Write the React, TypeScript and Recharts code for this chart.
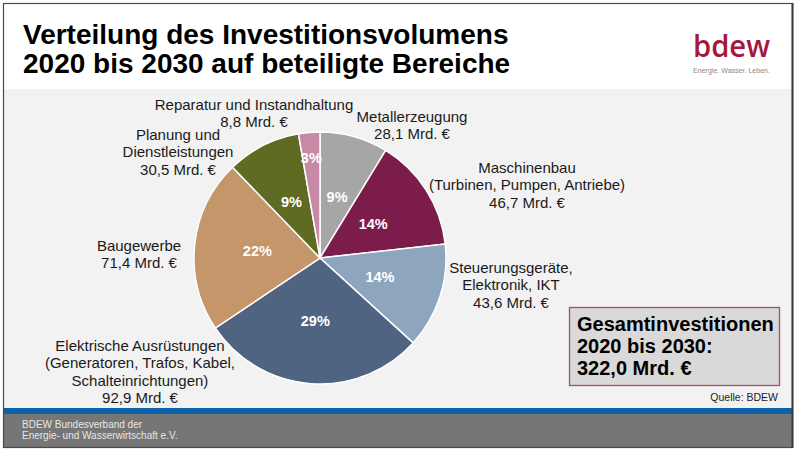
import React from "react";
import { PieChart, Pie, Cell } from "recharts";

const CATEGORIES = [
  "Metallerzeugung",
  "Maschinenbau",
  "Steuerungsgeräte",
  "Elektrische Ausrüstungen",
  "Baugewerbe",
  "Planung und Dienstleistungen",
  "Reparatur und Instandhaltung",
];
const VALUES = [28.1, 46.7, 43.6, 92.9, 71.4, 30.5, 8.8];
const PERCENT_LABELS = ["9%", "14%", "14%", "29%", "22%", "9%", "3%"];
const LABEL_LINES = [
  ["Metallerzeugung"],
  ["Maschinenbau", "(Turbinen, Pumpen, Antriebe)"],
  ["Steuerungsgeräte,", "Elektronik, IKT"],
  ["Elektrische Ausrüstungen", "(Generatoren, Trafos, Kabel,", "Schalteinrichtungen)"],
  ["Baugewerbe"],
  ["Planung und", "Dienstleistungen"],
  ["Reparatur und Instandhaltung"],
];
const TITLE_LINES = ["Verteilung des Investitionsvolumens", "2020 bis 2030 auf beteiligte Bereiche"];
const TOTAL_LINES = ["Gesamtinvestitionen", "2020 bis 2030:", "322,0 Mrd. €"];
const SOURCE = "Quelle: BDEW";
const FOOTER_LINES = ["BDEW Bundesverband der", "Energie- und Wasserwirtschaft e.V."];

const COLORS = ["#a6a6a6", "#7b1c4a", "#8ea5be", "#4e6480", "#c4966a", "#5f6b22", "#c78aa6"];
// hand-placed annotation anchors (center x, first baseline) as in the slide
const LABEL_ANCHORS = [
  { x: 412, y: 122 },
  { x: 527, y: 173 },
  { x: 511, y: 273 },
  { x: 140, y: 351 },
  { x: 139, y: 251 },
  { x: 178, y: 140 },
  { x: 254, y: 110 },
];

const FONT = "'Liberation Sans', Arial, sans-serif";
const RAD = Math.PI / 180;

const data = CATEGORIES.map((name, i) => ({ name, value: VALUES[i] }));

const fmt = (v: number) => `${v.toFixed(1).replace(".", ",")} Mrd. €`;

const renderLabel = (props: any) => {
  const { cx, cy, midAngle, outerRadius, index, percent } = props;
  const r = percent < 0.05 ? outerRadius * 0.8 : outerRadius * 0.5;
  const x = cx + r * Math.cos(-midAngle * RAD);
  const y = cy + r * Math.sin(-midAngle * RAD);
  const a = LABEL_ANCHORS[index];
  const lines = [...LABEL_LINES[index], fmt(VALUES[index])];
  return (
    <g key={`lbl-${index}`}>
      <text
        x={x}
        y={y}
        fill="#ffffff"
        fontFamily={FONT}
        fontWeight="bold"
        fontSize={14.5}
        textAnchor="middle"
        dominantBaseline="central"
      >
        {PERCENT_LABELS[index]}
      </text>
      <text fontFamily={FONT} fontSize={15} fill="#1a1a1a" textAnchor="middle">
        {lines.map((l, k) => (
          <tspan key={k} x={a.x} y={a.y + k * 17.3}>
            {l}
          </tspan>
        ))}
      </text>
    </g>
  );
};

export default function App() {
  return (
    <div style={{ position: "fixed", left: 0, top: 0, width: 800, height: 452, background: "#ffffff", overflow: "hidden" }}>
      <svg width={800} height={452} style={{ position: "absolute", left: 0, top: 0 }}>
        <rect x={0} y={0} width={800} height={452} fill="#ffffff" />
        <rect x={4} y={89} width={788} height={319} fill="#f2f2f2" />
        <rect x={4} y={408} width={788} height={6} fill="#0b62a8" />
        <rect x={4} y={414} width={788} height={33} fill="#767676" />
        <rect x={3.5} y={3.5} width={789} height={444} fill="none" stroke="#4a4a4a" strokeWidth={1.2} />
        <line x1={792.5} y1={3} x2={792.5} y2={448} stroke="#3a3a3a" strokeWidth={2} />
        {TITLE_LINES.map((t, i) => (
          <text key={i} x={23} y={44 + i * 29} fontFamily={FONT} fontWeight="bold" fontSize={28} fill="#000000">
            {t}
          </text>
        ))}
        <text x={693} y={57} fontFamily="'Open Sans', 'Liberation Sans', sans-serif" fontSize={30} fontWeight={600} fill="#a6173e" textLength={77} lengthAdjust="spacingAndGlyphs">
          bdew
        </text>
        <text x={693} y={73} fontFamily={FONT} fontSize={7.5} fill="#8a8a8a" textLength={77} lengthAdjust="spacingAndGlyphs">
          Energie. Wasser. Leben.
        </text>
        <rect x={569.5} y={307.5} width={210} height={78} fill="#d9d9d9" stroke="#a64d76" strokeWidth={1.3} />
        {TOTAL_LINES.map((t, i) => (
          <text key={i} x={577} y={331 + i * 22} fontFamily={FONT} fontWeight="bold" fontSize={20} fill="#000000">
            {t}
          </text>
        ))}
        <text x={778} y={401} textAnchor="end" fontFamily={FONT} fontSize={10.5} fill="#1a1a1a">
          {SOURCE}
        </text>
        {FOOTER_LINES.map((t, i) => (
          <text key={i} x={22} y={428 + i * 11} fontFamily={FONT} fontSize={10} fill="#e6e6e6">
            {t}
          </text>
        ))}
      </svg>
      <div style={{ position: "absolute", left: 0, top: 0 }}>
        <PieChart width={800} height={452} margin={{ top: 0, right: 0, bottom: 0, left: 0 }}>
          <Pie
            data={data}
            dataKey="value"
            nameKey="name"
            cx={320}
            cy={258}
            outerRadius={126}
            startAngle={90}
            endAngle={-270}
            stroke="#ffffff"
            strokeWidth={1.5}
            label={renderLabel}
            labelLine={false}
            isAnimationActive={false}
          >
            {data.map((d, i) => (
              <Cell key={d.name} fill={COLORS[i]} />
            ))}
          </Pie>
        </PieChart>
      </div>
    </div>
  );
}
